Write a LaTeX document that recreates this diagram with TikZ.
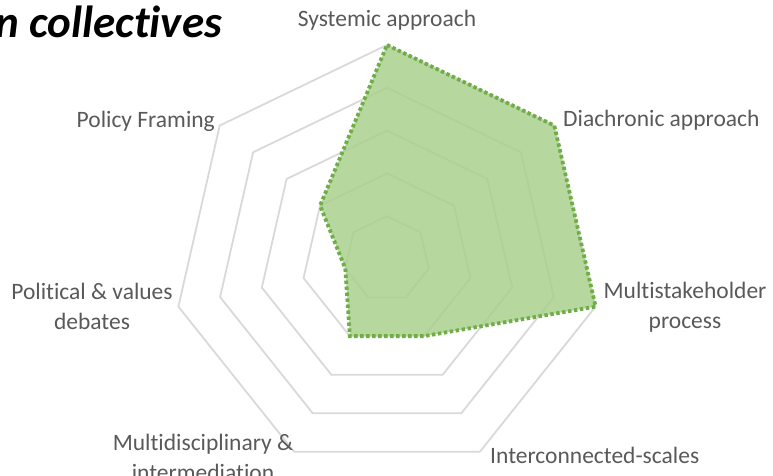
\documentclass[tikz,border=0pt]{standalone}
\usepackage{fontspec}
\setmainfont{Carlito}[Ligatures={NoCommon}]
\usetikzlibrary{calc}
\definecolor{gridgray}{HTML}{D9D9D9}
\definecolor{labgray}{HTML}{595959}
\definecolor{datgreen}{HTML}{70AD47}
\definecolor{datfill}{HTML}{A9D18E}
\tikzset{
  gridline/.style={draw=gridgray, line width=1.8pt, line join=miter},
  dataline/.style={draw=datgreen, line width=3.8pt, dash pattern=on 3.4pt off 2.6pt, fill=datfill, fill opacity=0.85, line join=miter},
  axislabel/.style={text=labgray, font=\fontsize{23.5}{30}\selectfont, inner sep=0pt, align=center},
  titlelabel/.style={text=black, font=\fontsize{45}{48}\selectfont\bfseries\itshape, inner sep=0pt}
}
\begin{document}
\begin{tikzpicture}[x=1pt,y=1pt]
\useasboundingbox (0,0) rectangle (773,476);
\coordinate (c) at (387,217);
\def\unit{42.8}
% grid
\foreach \l in {1,...,5}{
  \draw[gridline] ($(c)+(90:\l*\unit pt)$)
    \foreach \k in {1,...,6}{ -- ($(c)+({90-\k*360/7}:\l*\unit pt)$) } -- cycle;
}
% data
\draw[dataline]
  ($(c)+(90:5*\unit pt)$) --
  ($(c)+({90-1*360/7}:5*\unit pt)$) --
  ($(c)+({90-2*360/7}:5*\unit pt)$) --
  ($(c)+({90-3*360/7}:2*\unit pt)$) --
  ($(c)+({90-4*360/7}:2*\unit pt)$) --
  ($(c)+({90-5*360/7}:1*\unit pt)$) --
  ($(c)+({90-6*360/7}:2*\unit pt)$) -- cycle;
% labels
\node[titlelabel, anchor=base east] (title) at (222,438) {n collectives};
\node[axislabel, anchor=base] (sys) at (387,449) {Systemic approach};
\node[axislabel, anchor=base west] (dia) at (563,349) {Diachronic approach};
\node[axislabel, anchor=base] (msp) at (685,147) {Multistakeholder\\process};
\node[axislabel, anchor=base west] (isc) at (490,12) {Interconnected-scales};
\node[axislabel, anchor=base] (mdi) at (203,-5) {Multidisciplinary \&\\intermediation};
\node[axislabel, anchor=base] (pvd) at (92,146) {Political \& values\\debates};
\node[axislabel, anchor=base east] (pfr) at (215,348) {Policy Framing};
\end{tikzpicture}
\end{document}
